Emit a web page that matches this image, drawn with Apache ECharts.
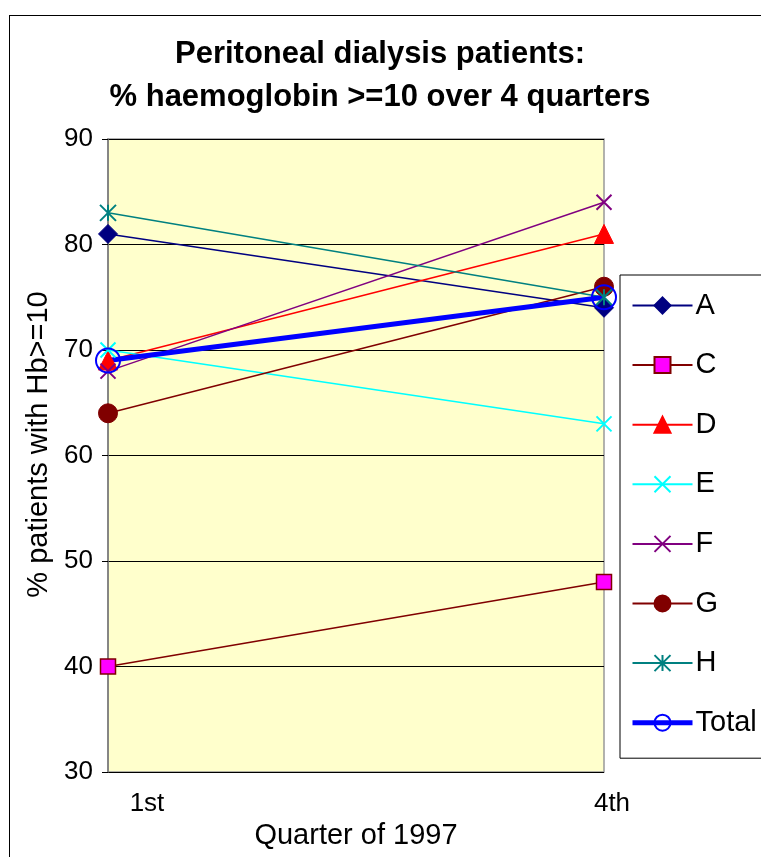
<!DOCTYPE html>
<html>
<head>
<meta charset="utf-8">
<script src="https://cdn.jsdelivr.net/npm/echarts@6/dist/echarts.min.js"></script>
<style>
  html, body { margin: 0; padding: 0; background: #fff; }
  #chart { width: 761px; height: 857px; }
  #frame { position: absolute; left: 9px; top: 15px; width: 800px; height: 900px; border: 1px solid #000; pointer-events: none; }
</style>
</head>
<body>
<div id="chart"></div>
<div id="frame"></div>
<script>
// Quarters of 1997 on the category axis
const quarters = ['1st', '4th'];
// % of patients with Hb >= 10, per centre
const unitA = [81, 74];
const unitC = [40, 48];
const unitD = [69, 81];
const unitE = [70, 63];
const unitF = [68, 84];
const unitG = [64, 76];
const unitH = [83, 75];
const total = [69, 75];
const yTicks = [30, 40, 50, 60, 70, 80, 90];

const FONT = 'Liberation Sans, Arial';
const crossPath = 'path://M0,0L10,10M10,0L0,10';
const starPath = 'path://M0,0L10,10M10,0L0,10M5,0L5,10';

function lineSeries(name, data, color, symbol, size, extra) {
  return Object.assign({
    name: name,
    type: 'line',
    data: data,
    symbol: symbol,
    symbolSize: size,
    lineStyle: { color: color, width: 1.5 },
    itemStyle: { color: color, borderColor: color, borderWidth: 1 },
    emphasis: { disabled: true },
    animation: false
  }, extra || {});
}

const legendNames = ['A', 'C', 'D', 'E', 'F', 'G', 'H', 'Total'];

const chart = echarts.init(document.getElementById('chart'), null, { renderer: 'canvas' });
chart.setOption({
  backgroundColor: '#ffffff',
  title: {
    text: 'Peritoneal dialysis patients:\n% haemoglobin >=10 over 4 quarters',
    left: 375,
    top: 28,
    textAlign: 'center',
    textStyle: { fontFamily: FONT, fontSize: 31, fontWeight: 'bold', color: '#000', lineHeight: 43 }
  },
  grid: { left: 108, right: 157, top: 139, bottom: 85, show: true, backgroundColor: '#FFFFCC', borderColor: '#999', borderWidth: 1.5 },
  legend: {
    orient: 'vertical',
    left: 620,
    top: 275,
    itemGap: 30.6,
    itemWidth: 60,
    itemHeight: 20,
    padding: [16, 60, 21, 10],
    borderColor: '#000',
    borderWidth: 1,
    backgroundColor: '#fff',
    textStyle: { fontFamily: FONT, fontSize: 29, color: '#000', padding: [0, 0, 0, -2] },
    data: legendNames.map(function (n) {
      return n === 'Total' ? { name: n, lineStyle: { width: 5 } } : { name: n };
    })
  },
  xAxis: {
    type: 'category',
    data: quarters,
    boundaryGap: false,
    axisLine: { show: false },
    axisTick: { show: false },
    splitLine: { show: false },
    axisLabel: {
      margin: 19,
      fontFamily: FONT,
      fontSize: 26,
      color: '#000',
      formatter: function (v) { return v === '1st' ? '{a|' + v + '}' : '{b|' + v + '}'; },
      rich: {
        a: { fontFamily: FONT, fontSize: 26, color: '#000', padding: [0, 0, 0, 78] },
        b: { fontFamily: FONT, fontSize: 26, color: '#000', padding: [0, 0, 0, 16] }
      }
    },
    name: 'Quarter of 1997',
    nameLocation: 'middle',
    nameGap: 37,
    nameTextStyle: { fontFamily: FONT, fontSize: 29, color: '#000' }
  },
  yAxis: {
    type: 'value',
    min: yTicks[0],
    max: yTicks[yTicks.length - 1],
    interval: 10,
    axisLine: { show: true, lineStyle: { color: '#777', width: 1.5 } },
    axisTick: { show: true, length: 6, lineStyle: { color: '#000' } },
    splitLine: { show: true, lineStyle: { color: '#000', width: 1 } },
    axisLabel: { margin: 15, fontFamily: FONT, fontSize: 26, color: '#000' },
    name: '% patients with Hb>=10',
    nameLocation: 'middle',
    nameRotate: 90,
    nameGap: 54,
    nameTextStyle: { fontFamily: FONT, fontSize: 29, color: '#000', padding: [0, 0, 0, 22] }
  },
  series: [
    lineSeries('A', unitA, '#000080', 'diamond', 19),
    lineSeries('C', unitC, '#800000', 'rect', 15, { itemStyle: { color: '#FF00FF', borderColor: '#800000', borderWidth: 1.5 } }),
    lineSeries('D', unitD, '#FF0000', 'triangle', 19),
    lineSeries('E', unitE, '#00FFFF', crossPath, 15, { itemStyle: { color: '#00FFFF', borderColor: '#00FFFF', borderWidth: 2 } }),
    lineSeries('F', unitF, '#800080', crossPath, 15, { itemStyle: { color: '#800080', borderColor: '#800080', borderWidth: 2 } }),
    lineSeries('G', unitG, '#800000', 'circle', 19),
    lineSeries('H', unitH, '#008080', starPath, 16, { itemStyle: { color: '#008080', borderColor: '#008080', borderWidth: 2 } }),
    lineSeries('Total', total, '#0000FF', 'circle', 24, {
      lineStyle: { color: '#0000FF', width: 5 },
      itemStyle: { color: 'rgba(0,0,0,0)', borderColor: '#0000FF', borderWidth: 2 }
    })
  ]
});
</script>
</body>
</html>
